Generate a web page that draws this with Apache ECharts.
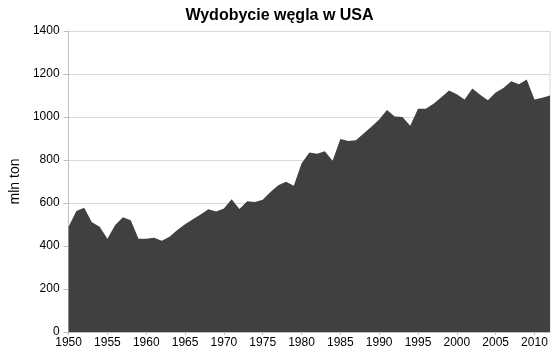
<!DOCTYPE html>
<html>
<head>
<meta charset="utf-8">
<script src="https://cdn.jsdelivr.net/npm/echarts@6/dist/echarts.min.js"></script>
<style>html,body{margin:0;padding:0;background:#fff}#c{width:559px;height:360px}</style>
</head>
<body>
<div id="c"></div>
<script>
const years = [];
for (let y = 1950; y <= 2012; y++) years.push(String(y));
const production = [
  490, 563, 578, 510, 490, 434, 498, 534, 520, 434,
  434, 438, 425, 443, 475, 501, 524, 546, 571, 561,
  574, 618, 572, 608, 605, 615, 651, 683, 699, 680,
  784, 835, 829, 841, 796, 898, 888, 892, 923, 955,
  988, 1033, 1002, 1000, 959, 1038, 1038, 1062, 1092, 1123,
  1106, 1081, 1132, 1104, 1078, 1114, 1135, 1166, 1152, 1175,
  1081, 1090, 1100
];
const yTicks = [0, 200, 400, 600, 800, 1000, 1200, 1400];

const chart = echarts.init(document.getElementById('c'), null, {renderer: 'canvas'});
chart.setOption({
  animation: false,
  title: {
    text: 'Wydobycie węgla w USA',
    left: 'center',
    top: 3,
    textStyle: {fontFamily: 'Liberation Sans, Arial', fontSize: 16, fontWeight: 'bold', color: '#000'}
  },
  grid: {left: 67, right: 9, top: 31, bottom: 28},
  xAxis: {
    type: 'category',
    data: years,
    boundaryGap: false,
    axisLine: {lineStyle: {color: '#bfbfbf'}},
    axisTick: {show: true, interval: 4, length: 3, lineStyle: {color: '#bfbfbf'}},
    axisLabel: {interval: 4, margin: 5, fontFamily: 'Liberation Sans, Arial', fontSize: 12, color: '#000'},
    splitLine: {show: false}
  },
  yAxis: {
    type: 'value',
    min: yTicks[0],
    max: yTicks[yTicks.length - 1],
    interval: 200,
    name: 'mln ton',
    nameLocation: 'middle',
    nameGap: 46,
    nameTextStyle: {fontFamily: 'Liberation Sans, Arial', fontSize: 14, color: '#000'},
    axisLine: {show: true, lineStyle: {color: '#bfbfbf'}},
    axisTick: {show: true, length: 5, lineStyle: {color: '#bfbfbf'}},
    axisLabel: {margin: 9, fontFamily: 'Liberation Sans, Arial', fontSize: 12, color: '#000', formatter: v => String(v)},
    splitLine: {lineStyle: {color: '#d9d9d9'}}
  },
  series: [{
    type: 'line',
    data: production,
    symbol: 'none',
    lineStyle: {width: 0},
    areaStyle: {color: '#404040', opacity: 1},
    itemStyle: {color: '#404040'}
  }],
  graphic: [{
    type: 'line',
    shape: {x1: 550, y1: 31, x2: 550, y2: 332},
    style: {stroke: '#d9d9d9', lineWidth: 1}
  }]
});
</script>
</body>
</html>
